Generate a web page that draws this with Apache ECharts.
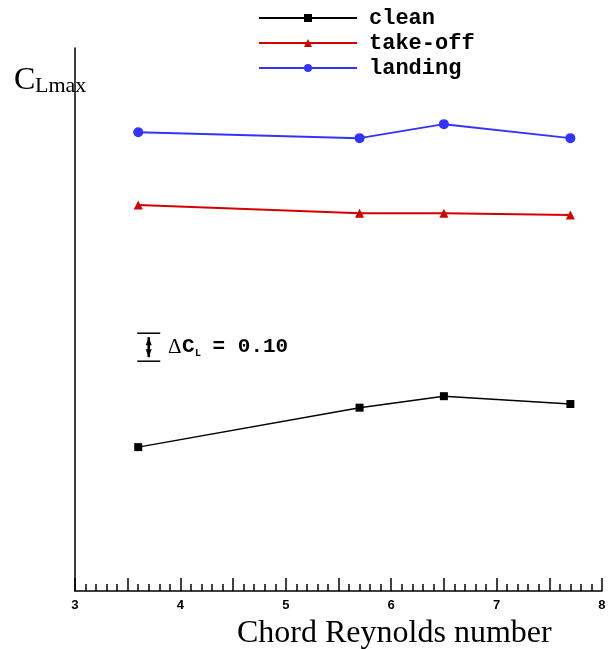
<!DOCTYPE html>
<html>
<head>
<meta charset="utf-8">
<script src="https://cdn.jsdelivr.net/npm/echarts@6/dist/echarts.min.js"></script>
<style>
  html, body { margin: 0; padding: 0; background: #fff; }
  #main { width: 610px; height: 649px; }
</style>
</head>
<body>
<div id="main"></div>
<script>
// chord Reynolds number (x 10^6) and CLmax for each configuration
var reynolds = [3.6, 5.7, 6.5, 7.7];
var clean = [1.514, 1.655, 1.696, 1.668];
var takeOff = [2.379, 2.350, 2.350, 2.343];
var landing = [2.639, 2.618, 2.668, 2.618];
var seriesNames = ['clean', 'take-off', 'landing'];

// the ΔCL = 0.10 scale bar, in data units
var scaleBarX = 3.6;
var scaleBarBottom = 1.821;
var scaleBarLength = 0.10;

function pairs(xs, ys) {
  return xs.map(function (x, i) { return [x, ys[i]]; });
}

var mono = '"Liberation Mono", "Courier New", monospace';
var serif = '"Liberation Serif", "Times New Roman", serif';

var chartDom = document.getElementById('main');
var myChart = echarts.init(chartDom, null, { renderer: 'canvas' });

var option = {
  animation: false,
  backgroundColor: '#fff',
  grid: { left: 75, right: 8, top: 48, bottom: 58 },
  legend: {
    orient: 'vertical',
    left: 253,
    top: 2,
    itemWidth: 98,
    itemHeight: 10,
    itemGap: 3,
    data: seriesNames,
    textStyle: { fontFamily: mono, fontWeight: 'bold', fontSize: 22, color: '#000', padding: [0, 0, 0, 7] }
  },
  xAxis: {
    type: 'value',
    min: 3,
    max: 8,
    interval: 0.5,
    axisLine: { lineStyle: { color: '#000', width: 1.5 } },
    axisTick: { inside: true, length: 13, lineStyle: { color: '#000', width: 1.5 } },
    minorTick: { show: true, splitNumber: 5, length: 7, lineStyle: { color: '#000', width: 1.5 } },
    splitLine: { show: false },
    axisLabel: {
      margin: 8,
      fontFamily: mono,
      fontWeight: 'bold',
      fontSize: 13,
      color: '#000',
      formatter: function (v) { return v % 1 === 0 ? String(v) : ''; }
    }
  },
  yAxis: {
    type: 'value',
    min: 1.0,
    max: 2.94,
    axisLine: { show: true, lineStyle: { color: '#000', width: 1.5 } },
    axisTick: { show: false },
    axisLabel: { show: false },
    splitLine: { show: false }
  },
  series: [
    {
      name: 'clean',
      type: 'line',
      data: pairs(reynolds, clean),
      symbol: 'rect',
      symbolSize: 8,
      color: '#000',
      lineStyle: { color: '#000', width: 1.5 },
      itemStyle: { color: '#000' }
    },
    {
      name: 'take-off',
      type: 'line',
      data: pairs(reynolds, takeOff),
      symbol: 'triangle',
      symbolSize: 9,
      color: '#d40000',
      lineStyle: { color: '#d40000', width: 2 },
      itemStyle: { color: '#d40000' }
    },
    {
      name: 'landing',
      type: 'line',
      data: pairs(reynolds, landing),
      symbol: 'circle',
      symbolSize: 10,
      color: '#3333ff',
      lineStyle: { color: '#3333ff', width: 2 },
      itemStyle: { color: '#3333ff' }
    }
  ]
};
myChart.setOption(option);

// scale bar and titles, placed from the axis scales
var pBottom = myChart.convertToPixel({ gridIndex: 0 }, [scaleBarX, scaleBarBottom]);
var pTop = myChart.convertToPixel({ gridIndex: 0 }, [scaleBarX, scaleBarBottom + scaleBarLength]);
var bx = pBottom[0] - 1;
var bw = 23;
var cx = bx + bw / 2;
var arrowGap = 4;
var midY = (pTop[1] + pBottom[1]) / 2;

myChart.setOption({
  graphic: [
    { type: 'line', shape: { x1: bx, y1: pTop[1], x2: bx + bw, y2: pTop[1] }, style: { stroke: '#000', lineWidth: 1.5 } },
    { type: 'line', shape: { x1: bx, y1: pBottom[1], x2: bx + bw, y2: pBottom[1] }, style: { stroke: '#000', lineWidth: 1.5 } },
    { type: 'line', shape: { x1: cx, y1: pTop[1] + arrowGap, x2: cx, y2: pBottom[1] - arrowGap }, style: { stroke: '#000', lineWidth: 2.5 } },
    { type: 'polygon', shape: { points: [[cx, pTop[1] + arrowGap], [cx - 3, pTop[1] + arrowGap + 8], [cx + 3, pTop[1] + arrowGap + 8]] }, style: { fill: '#000' } },
    { type: 'polygon', shape: { points: [[cx, pBottom[1] - arrowGap], [cx - 3, pBottom[1] - arrowGap - 8], [cx + 3, pBottom[1] - arrowGap - 8]] }, style: { fill: '#000' } },
    {
      type: 'text', left: 168, top: midY - 10,
      style: { text: 'Δ', font: '21px ' + serif, fill: '#000' }
    },
    {
      type: 'text', left: 182, top: midY - 11,
      style: { text: 'C', font: 'bold 21px ' + mono, fill: '#000' }
    },
    {
      type: 'text', left: 195, top: midY + 1,
      style: { text: 'L', font: 'bold 10px ' + mono, fill: '#000' }
    },
    {
      type: 'text', left: 200, top: midY - 11,
      style: { text: ' = 0.10', font: 'bold 21px ' + mono, fill: '#000' }
    },
    {
      type: 'text', left: 14, top: 65,
      style: { text: 'C', font: '32px ' + serif, fill: '#000' }
    },
    {
      type: 'text', left: 35, top: 75,
      style: { text: 'Lmax', font: '22px ' + serif, fill: '#000' }
    },
    {
      type: 'text', left: 237, top: 618,
      style: { text: 'Chord Reynolds number', font: '32px ' + serif, fill: '#000' }
    }
  ]
});
</script>
</body>
</html>
